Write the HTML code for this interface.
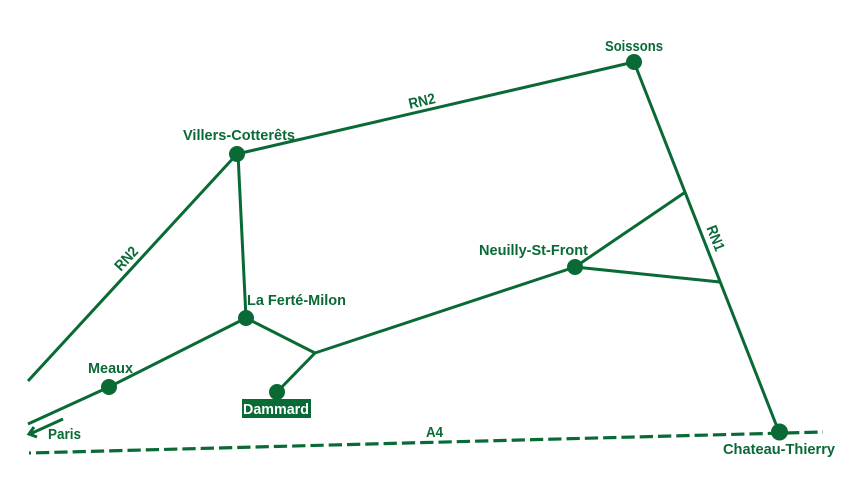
<!DOCTYPE html>
<html>
<head>
<meta charset="utf-8">
<style>
  html, body { margin: 0; padding: 0; background: #ffffff; }
  body { width: 865px; height: 494px; overflow: hidden; }
  svg { display: block; }
  text { font-family: "Liberation Sans", "DejaVu Sans", sans-serif; font-weight: bold; font-size: 15px; fill: #0a6a35; }
</style>
</head>
<body>
<svg width="865" height="494" viewBox="0 0 865 494" xmlns="http://www.w3.org/2000/svg">
  <g stroke="#0a6a35" stroke-width="3" fill="none" stroke-linecap="butt">
    <!-- RN2 lower-left -->
    <line x1="28" y1="381" x2="237" y2="154"/>
    <!-- RN2 upper -->
    <line x1="237" y1="154" x2="634" y2="62"/>
    <!-- RN1 -->
    <line x1="634" y1="62" x2="779" y2="432"/>
    <!-- Villers to La Ferte -->
    <line x1="238" y1="154" x2="246" y2="318"/>
    <!-- Paris - Meaux - La Ferte -->
    <line x1="28" y1="424" x2="109" y2="387"/>
    <line x1="109" y1="387" x2="246" y2="318"/>
    <!-- La Ferte to junction -->
    <line x1="246" y1="318" x2="315" y2="353"/>
    <!-- Dammard to junction -->
    <line x1="277" y1="392" x2="315" y2="353"/>
    <!-- junction to Neuilly -->
    <line x1="315" y1="353" x2="575" y2="267"/>
    <!-- Neuilly to RN1 -->
    <line x1="575" y1="267" x2="684" y2="193"/>
    <line x1="575" y1="267" x2="720" y2="282"/>
    <!-- Paris arrow -->
    <line x1="63" y1="419" x2="30" y2="434"/>
    <polyline points="34,427 29,434 37,437" stroke-linejoin="miter"/>
    <!-- A4 dashed -->
    <line x1="29" y1="453" x2="823" y2="432" stroke-width="3.2" stroke-dasharray="13.3 5" stroke-dashoffset="11.3"/>
  </g>

  <g fill="#0a6a35">
    <circle cx="634" cy="62" r="8"/>
    <circle cx="237" cy="154" r="8"/>
    <circle cx="246" cy="318" r="8"/>
    <circle cx="109" cy="387" r="8"/>
    <circle cx="277" cy="392" r="8"/>
    <circle cx="575" cy="267" r="8"/>
    <circle cx="779.5" cy="432" r="8.5"/>
    <rect x="242" y="399" width="69" height="19"/>
  </g>

  <text x="605" y="51" textLength="58" lengthAdjust="spacingAndGlyphs">Soissons</text>
  <text x="183" y="140" textLength="112" lengthAdjust="spacingAndGlyphs">Villers-Cotterêts</text>
  <text x="479" y="255" textLength="109" lengthAdjust="spacingAndGlyphs">Neuilly-St-Front</text>
  <text x="247" y="305" textLength="99" lengthAdjust="spacingAndGlyphs">La Ferté-Milon</text>
  <text x="88" y="373" textLength="45" lengthAdjust="spacingAndGlyphs">Meaux</text>
  <text x="243" y="414" textLength="66" lengthAdjust="spacingAndGlyphs" style="fill:#ffffff">Dammard</text>
  <text x="48" y="439" textLength="33" lengthAdjust="spacingAndGlyphs">Paris</text>
  <text x="426" y="437" textLength="17" lengthAdjust="spacingAndGlyphs">A4</text>
  <text x="723" y="454" textLength="112" lengthAdjust="spacingAndGlyphs">Chateau-Thierry</text>

  <text x="0" y="0" text-anchor="middle" textLength="27" lengthAdjust="spacingAndGlyphs" transform="translate(423,106) rotate(-13.1)">RN2</text>
  <text x="0" y="0" text-anchor="middle" textLength="27" lengthAdjust="spacingAndGlyphs" transform="translate(130,262) rotate(-47.4)">RN2</text>
  <text x="0" y="0" text-anchor="middle" textLength="26" lengthAdjust="spacingAndGlyphs" transform="translate(711,240) rotate(68.5)">RN1</text>
</svg>
</body>
</html>
